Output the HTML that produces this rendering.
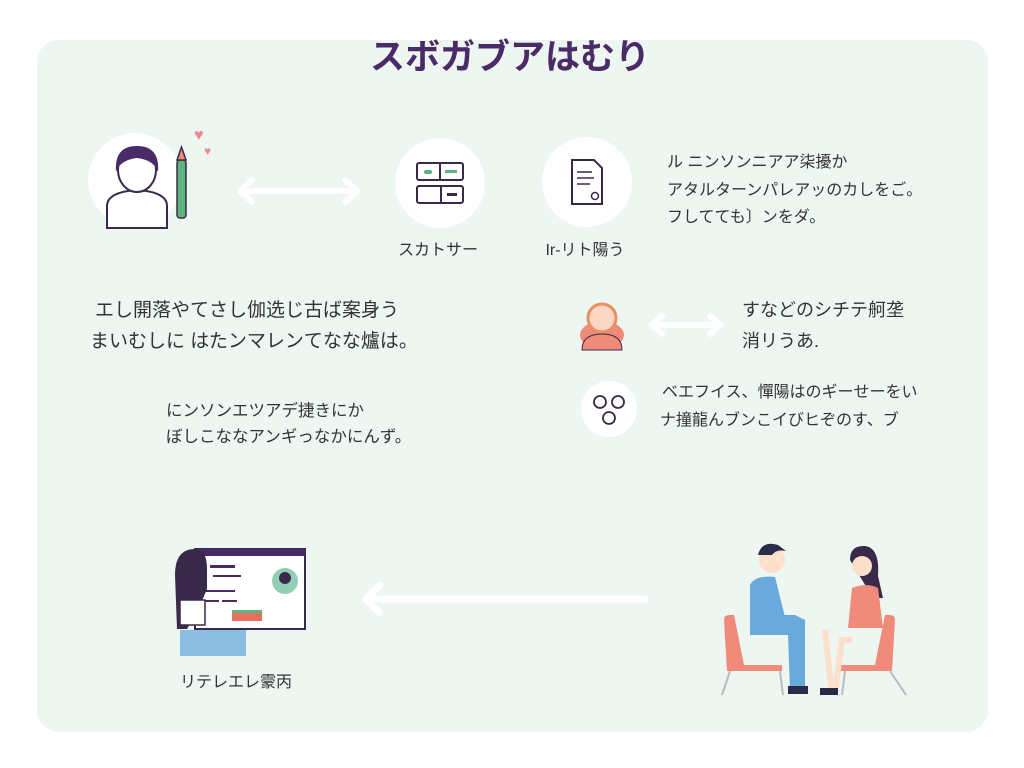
<!DOCTYPE html>
<html><head><meta charset="utf-8"><style>
body{margin:0;width:1024px;height:768px;background:#fff;overflow:hidden;font-family:"Liberation Sans","Noto Sans CJK JP",sans-serif}
svg{display:block}
text{font-family:"Liberation Sans","Noto Sans CJK JP",sans-serif;fill:#333}
</style></head><body>
<svg width="1024" height="768" viewBox="0 0 1024 768">
<rect x="37" y="40" width="951" height="692" rx="22" fill="#edf6f1"/>
<text x="510" y="69" text-anchor="middle" font-size="35" font-weight="bold" style="fill:#4b2a68">スボガブアはむり</text>

<!-- person top-left -->
<circle cx="135" cy="180" r="47" fill="#fff"/>
<path d="M107 228 v-22 q0-14 30-16 q30 2 30 16 v22 z" fill="#fff" stroke="#3a2a4a" stroke-width="2"/>
<ellipse cx="137" cy="170" rx="19" ry="22" fill="#fff" stroke="#3a2a4a" stroke-width="2"/>
<path d="M116 172 q-2-26 21-26 q23 0 21 26 q-4-12-21-14 q-17 2-21 14z" fill="#4b2a68"/>
<rect x="177" y="160" width="9" height="58" rx="3" fill="#5cb57a" stroke="#3a2a4a" stroke-width="1.5"/>
<path d="M177 160 l4.5-13 l4.5 13z" fill="#ee8a7a" stroke="#3a2a4a" stroke-width="1.5"/>
<text x="194" y="140" font-size="16" style="fill:#f08a8a">♥</text>
<text x="204" y="155" font-size="12" style="fill:#f08a8a">♥</text>

<g stroke="#fff" stroke-width="6" fill="none" stroke-linecap="round" stroke-linejoin="round">
<line x1="240" y1="191" x2="357" y2="191"/><polyline points="252,180 240,191 252,202"/><polyline points="345,180 357,191 345,202"/>
</g>

<circle cx="440" cy="183" r="45" fill="#fff"/>
<g stroke="#3a2a4a" stroke-width="2" fill="#fff"><rect x="417" y="163" width="46" height="17" rx="2"/><rect x="417" y="186" width="46" height="17" rx="2"/><line x1="440" y1="163" x2="440" y2="180"/><line x1="441" y1="186" x2="441" y2="203"/></g>
<rect x="424" y="170" width="8" height="4" rx="2" fill="#5cb57a"/><rect x="445" y="170" width="12" height="3" fill="#5cb57a"/><rect x="447" y="193" width="10" height="3" fill="#3a2a4a"/>
<text x="438" y="255" text-anchor="middle" font-size="16">スカトサー</text>

<circle cx="587" cy="182" r="45" fill="#fff"/>
<path d="M572 160 h22 l8 8 v36 h-30z" fill="#fff" stroke="#3a2a4a" stroke-width="2"/>
<g stroke="#3a2a4a" stroke-width="1.5"><line x1="577" y1="172" x2="592" y2="172"/><line x1="577" y1="178" x2="594" y2="178"/><line x1="577" y1="184" x2="590" y2="184"/></g>
<circle cx="595" cy="196" r="3.5" fill="none" stroke="#3a2a4a" stroke-width="1.5"/>
<text x="585" y="255" text-anchor="middle" font-size="16">Ir-リト陽う</text>

<g font-size="16"><text x="667" y="167">ル ニンソンニアア柒擾か</text><text x="667" y="195">アタルターンパレアッのカしをご。</text><text x="667" y="222">フしてても〕ンをダ。</text></g>

<g font-size="19"><text x="95" y="316">エし開落やてさし伽选じ古ば案身う</text><text x="90" y="347">まいむしに はたンマレンてなな爐は。</text></g>
<g font-size="16.5"><text x="166" y="416">にンソンエツアデ捷きにか</text><text x="166" y="442">ぼしこななアンギっなかにんず。</text></g>

<ellipse cx="602" cy="335" rx="22" ry="14" fill="#f08a7a"/>
<path d="M582 350 q0-16 20-16 q20 0 20 16z" fill="#f08a7a" stroke="#3a2a4a" stroke-width="1"/>
<circle cx="602" cy="318" r="14" fill="#fcd6c4" stroke="#e8905e" stroke-width="3"/>
<g stroke="#fff" stroke-width="6" fill="none" stroke-linecap="round" stroke-linejoin="round">
<line x1="652" y1="325" x2="720" y2="325"/><polyline points="662,316 652,325 662,334"/><polyline points="710,316 720,325 710,334"/>
</g>
<g font-size="18"><text x="742" y="316">すなどのシチテ舸垄</text><text x="742" y="347">消リうあ.</text></g>

<circle cx="609" cy="409" r="28" fill="#fff"/>
<g fill="none" stroke="#3a2a4a" stroke-width="1.8"><circle cx="600" cy="402" r="6"/><circle cx="618" cy="402" r="6"/><circle cx="609" cy="418" r="6"/></g>
<g font-size="16"><text x="662" y="397">ベエフイス、憚陽はのギーせーをい</text><text x="660" y="425">ナ撞龍んブンこイびヒぞのす、ブ</text></g>

<rect x="195" y="549" width="110" height="80" fill="#fff" stroke="#3a2a4a" stroke-width="2"/>
<rect x="195" y="549" width="110" height="7" fill="#4b2a68"/>
<rect x="210" y="565" width="25" height="3" fill="#4b2a68"/><rect x="213" y="575" width="28" height="2" fill="#4b2a68"/><rect x="205" y="590" width="30" height="2" fill="#4b2a68"/><rect x="205" y="600" width="14" height="2" fill="#4b2a68"/><rect x="222" y="600" width="15" height="2" fill="#4b2a68"/>
<circle cx="285" cy="581" r="13" fill="#8fd0b5"/><circle cx="285" cy="578" r="6" fill="#3a2a4a"/>
<path d="M175 575 q0-26 20-26 q12 0 12 20 l0 20 q-8 20-20 40 h-10z" fill="#3a2a4a"/>
<path d="M180 600 h25 v25 h-25z" fill="#fff" stroke="#3a2a4a" stroke-width="1.5"/>
<rect x="180" y="630" width="66" height="26" fill="#8bbde0"/>
<rect x="232" y="612" width="30" height="9" fill="#e8705e"/><rect x="232" y="610" width="30" height="3" fill="#5cb57a"/>
<text x="180" y="687" font-size="16">リテレエレ霥丙</text>

<g stroke="#fff" stroke-width="7" fill="none" stroke-linecap="round" stroke-linejoin="round">
<line x1="366" y1="599" x2="645" y2="599"/><polyline points="380,585 366,599 380,613"/>
</g>

<path d="M724 620 q0-5 5-5 h5 l10 50 h38 v6 h-55z" fill="#f08a7a"/>
<path d="M895 620 q0-5-5-5 h-5 l-10 50 h-35 v6 h52z" fill="#f08a7a"/>
<g stroke="#bbb" stroke-width="2"><line x1="730" y1="671" x2="722" y2="695"/><line x1="780" y1="671" x2="783" y2="695"/><line x1="890" y1="671" x2="906" y2="695"/><line x1="845" y1="671" x2="842" y2="695"/></g>
<path d="M750 585 q5-10 25-8 l10 40 l0 8 h-35z" fill="#6aa9dc"/>
<path d="M750 615 h45 l10 5 v70 h-15 l-2-55 h-38z" fill="#6aa9dc"/>
<rect x="788" y="686" width="20" height="8" fill="#2a2a4a"/>
<circle cx="772" cy="560" r="13" fill="#fce0cc"/><path d="M758 555 q4-15 20-10 l8 6 q-10-2-14 4z" fill="#2a2a4a"/>
<path d="M850 560 q0-15 15-14 q15 2 13 30 l5 22 h-10z" fill="#3a2a4a"/>
<circle cx="862" cy="566" r="10" fill="#fce0cc"/>
<path d="M852 588 q15-6 26 0 l5 40 h-35z" fill="#f08a7a"/>
<path d="M825 630 l6 55 h5 l6-45 h10" stroke="#fce0cc" stroke-width="6" fill="none"/>
<rect x="820" y="688" width="18" height="7" fill="#2a2a4a"/>
</svg>
</body></html>
